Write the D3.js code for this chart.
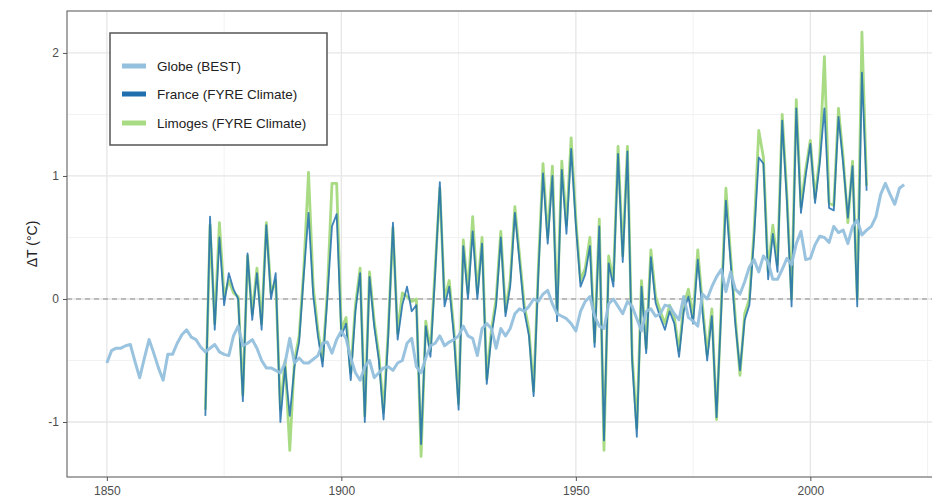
<!DOCTYPE html>
<html>
<head>
<meta charset="utf-8">
<script src="https://cdn.jsdelivr.net/npm/d3@7"></script>
<style>
  body { margin: 0; background: #fff; }
  text { font-family: "Liberation Sans", Arial, sans-serif; }
</style>
</head>
<body>
<script>
// global mean (BEST), 1850-2020
const globeStart = 1850;
const globeValues = [
  -0.52, -0.42, -0.40, -0.40, -0.38, -0.37, -0.51, -0.64, -0.48, -0.33,
  -0.44, -0.56, -0.66, -0.45, -0.45, -0.36, -0.29, -0.25, -0.31, -0.33,
  -0.39, -0.43, -0.40, -0.37, -0.43, -0.45, -0.46, -0.30, -0.22, -0.38,
  -0.36, -0.33, -0.40, -0.50, -0.56, -0.56, -0.58, -0.60, -0.52, -0.32,
  -0.52, -0.48, -0.52, -0.52, -0.49, -0.46, -0.36, -0.35, -0.44, -0.33,
  -0.26, -0.32, -0.48, -0.60, -0.66, -0.55, -0.50, -0.64, -0.60, -0.56,
  -0.55, -0.58, -0.52, -0.50, -0.36, -0.32, -0.55, -0.60, -0.48, -0.38,
  -0.36, -0.30, -0.38, -0.35, -0.33, -0.30, -0.22, -0.30, -0.32, -0.46,
  -0.24, -0.20, -0.24, -0.40, -0.24, -0.30, -0.24, -0.12, -0.08, -0.10,
  -0.06, 0.00, -0.02, 0.04, 0.07, -0.04, -0.12, -0.14, -0.16, -0.20,
  -0.26, -0.10, -0.02, 0.02, -0.14, -0.22, -0.24, -0.04, 0.00, -0.06,
  -0.12, -0.02, -0.06, -0.16, -0.26, -0.10, -0.08, -0.14, -0.12, -0.05,
  -0.06, -0.12, -0.17, 0.02, -0.15, -0.18, -0.22, 0.04, 0.00, 0.10,
  0.18, 0.24, 0.06, 0.22, 0.08, 0.04, 0.14, 0.26, 0.32, 0.22,
  0.35, 0.30, 0.16, 0.16, 0.24, 0.33, 0.28, 0.45, 0.55, 0.32,
  0.33, 0.44, 0.51, 0.50, 0.46, 0.59, 0.54, 0.56, 0.45, 0.59,
  0.64, 0.52, 0.56, 0.59, 0.67, 0.85, 0.94, 0.85, 0.77, 0.90,
  0.93
];
// France and Limoges (FYRE Climate), 1871-2012
const fyreStart = 1871;
const franceValues = [
  -0.95, 0.67, -0.25, 0.50, -0.05, 0.21, 0.08, 0.00, -0.83, 0.37,
  -0.17, 0.21, -0.25, 0.60, 0.00, 0.21, -1.00, -0.55, -0.95, -0.55,
  -0.35, 0.20, 0.70, 0.03, -0.30, -0.55, 0.00, 0.59, 0.69, -0.30,
  -0.20, -0.66, -0.10, 0.21, -1.00, 0.18, -0.22, -0.50, -0.98, -0.30,
  0.62, -0.33, -0.05, 0.10, -0.10, -0.05, -1.18, -0.22, -0.47, 0.20,
  0.95, -0.06, 0.10, -0.30, -0.90, 0.43, 0.00, 0.55, 0.00, 0.45,
  -0.69, -0.30, -0.05, 0.50, -0.14, 0.10, 0.70, 0.30, -0.10, -0.30,
  -0.79, 0.20, 1.02, 0.45, 1.00, -0.18, 1.05, 0.53, 1.22, 0.60,
  0.10, 0.20, 0.43, -0.39, 0.59, -1.15, 0.29, 0.10, 1.18, 0.30,
  1.20, -0.50, -1.12, 0.10, -0.44, 0.34, -0.03, -0.15, -0.25, -0.10,
  -0.20, -0.47, -0.10, 0.02, -0.20, 0.32, -0.10, -0.50, -0.14, -0.96,
  -0.10, 0.80, 0.30, -0.20, -0.58, -0.17, -0.05, 0.50, 1.15, 1.10,
  0.16, 0.53, 0.22, 1.45, 0.80, -0.06, 1.55, 0.70, 1.00, 1.26,
  0.78, 1.10, 1.55, 0.74, 0.72, 1.48, 1.10, 0.66, 1.08, -0.06,
  1.84, 0.88
];
const limogesValues = [
  -0.90, 0.60, -0.20, 0.62, 0.02, 0.15, 0.05, 0.02, -0.78, 0.35,
  -0.12, 0.25, -0.20, 0.62, 0.05, 0.15, -0.90, -0.50, -1.23, -0.50,
  -0.30, 0.25, 1.03, 0.10, -0.25, -0.50, 0.05, 0.94, 0.94, -0.25,
  -0.15, -0.60, -0.05, 0.25, -0.95, 0.22, -0.18, -0.45, -0.92, -0.25,
  0.58, -0.28, 0.05, 0.02, -0.02, 0.00, -1.28, -0.18, -0.42, 0.25,
  0.90, 0.00, 0.15, -0.25, -0.85, 0.48, 0.05, 0.67, 0.05, 0.50,
  -0.65, -0.25, 0.00, 0.55, -0.10, 0.15, 0.75, 0.35, -0.05, -0.25,
  -0.75, 0.25, 1.10, 0.50, 1.08, -0.12, 1.12, 0.60, 1.31, 0.65,
  0.15, 0.25, 0.50, -0.35, 0.65, -1.23, 0.35, 0.15, 1.24, 0.35,
  1.24, -0.45, -1.05, 0.15, -0.40, 0.40, 0.02, -0.10, -0.20, -0.05,
  -0.15, -0.42, -0.05, 0.08, -0.15, 0.40, -0.05, -0.45, -0.08, -0.98,
  -0.05, 0.90, 0.35, -0.15, -0.62, -0.12, 0.00, 0.55, 1.37, 1.15,
  0.22, 0.60, 0.28, 1.50, 0.85, 0.00, 1.62, 0.75, 1.05, 1.29,
  0.82, 1.15, 1.97, 0.78, 0.76, 1.55, 1.15, 0.62, 1.12, 0.00,
  2.17, 0.92
];
const seriesNames = ["Globe (BEST)", "France (FYRE Climate)", "Limoges (FYRE Climate)"];
const seriesColors = ["#93c0dc", "#1f6fae", "#a9db84"];
const xTicks = [1850, 1900, 1950, 2000];
const xMinor = [1875, 1925, 1975, 2025];
const yTicks = [-1, 0, 1, 2];
const yMinor = [-0.5, 0.5, 1.5];

const svgWidth = 932;
const svgHeight = 503;
const panelLeft = 67;
const panelTop = 11;
const panelBottom = 477;
const panelRight = 944; // ggplot panel runs a little past the image edge

const svg = d3.select("body").append("svg")
            .attr("width", svgWidth)
            .attr("height", svgHeight);

var xScale = d3.scaleLinear().domain([1841.5, 2028.5]).range([panelLeft, panelRight]);
var yScale = d3.scaleLinear().domain([-1.447, 2.341]).range([panelBottom, panelTop]);

function toPoints(start, values) {
  return values.map(function(v, i) { return [start + i, v]; });
}
const line = d3.line()
             .curve(d3.curveLinear)
             .x(function(d) { return xScale(d[0]); })
             .y(function(d) { return yScale(d[1]); });

createGrid();
drawLines();
createAxes();
createLegend();

function createGrid() {
  //minor grid first, major over it
  xMinor.forEach(function(t) {
    svg.append("line")
       .attr("x1", xScale(t)).attr("x2", xScale(t))
       .attr("y1", panelTop).attr("y2", panelBottom)
       .style("stroke", "#f2f2f2").style("stroke-width", 1);
  });
  yMinor.forEach(function(t) {
    svg.append("line")
       .attr("x1", panelLeft).attr("x2", panelRight)
       .attr("y1", yScale(t)).attr("y2", yScale(t))
       .style("stroke", "#f2f2f2").style("stroke-width", 1);
  });
  xTicks.forEach(function(t) {
    svg.append("line")
       .attr("x1", xScale(t)).attr("x2", xScale(t))
       .attr("y1", panelTop).attr("y2", panelBottom)
       .style("stroke", "#e6e6e6").style("stroke-width", 1.3);
  });
  yTicks.forEach(function(t) {
    svg.append("line")
       .attr("x1", panelLeft).attr("x2", panelRight)
       .attr("y1", yScale(t)).attr("y2", yScale(t))
       .style("stroke", "#e6e6e6").style("stroke-width", 1.3);
  });
  //dashed zero line
  svg.append("line")
     .attr("x1", panelLeft).attr("x2", panelRight)
     .attr("y1", yScale(0)).attr("y2", yScale(0))
     .style("stroke", "#8a8a8a")
     .style("stroke-width", 1)
     .style("stroke-dasharray", "5,4");
}

function drawLines() {
  svg.append("path")
     .attr("d", line(toPoints(fyreStart, limogesValues)))
     .attr("fill", "none")
     .attr("stroke", seriesColors[2])
     .attr("stroke-width", 2.8)
     .attr("stroke-linejoin", "round");
  svg.append("path")
     .attr("d", line(toPoints(fyreStart, franceValues)))
     .attr("fill", "none")
     .attr("stroke", seriesColors[1])
     .attr("stroke-width", 1.8)
     .attr("stroke-opacity", 0.85)
     .attr("stroke-linejoin", "round");
  svg.append("path")
     .attr("d", line(toPoints(globeStart, globeValues)))
     .attr("fill", "none")
     .attr("stroke", seriesColors[0])
     .attr("stroke-width", 3)
     .attr("stroke-opacity", 0.95)
     .attr("stroke-linejoin", "round");
}

function createAxes() {
  //panel border
  svg.append("rect")
     .attr("x", panelLeft)
     .attr("y", panelTop)
     .attr("width", panelRight - panelLeft)
     .attr("height", panelBottom - panelTop)
     .attr("fill", "none")
     .attr("stroke", "#6e6e6e")
     .attr("stroke-width", 1.2);

  var x_axis = d3.axisBottom(xScale).tickValues(xTicks).tickFormat(function(d) { return String(d); }).tickSize(4).tickPadding(5);
  var y_axis = d3.axisLeft(yScale).tickValues(yTicks).tickFormat(function(d) { return String(d); }).tickSize(4).tickPadding(4);
  var gx = svg.append("g")
     .attr("transform", "translate(0," + panelBottom + ")")
     .call(x_axis);
  var gy = svg.append("g")
     .attr("transform", "translate(" + panelLeft + ",0)")
     .call(y_axis);
  [gx, gy].forEach(function(g) {
    g.select(".domain").remove();
    g.selectAll(".tick line").attr("stroke", "#555");
    g.selectAll(".tick text")
     .attr("fill", "#4d4d4d")
     .style("font-size", "12px")
     .style("font-family", "'Liberation Sans', Arial, sans-serif");
  });

  svg.append("text")
     .attr("transform", "translate(37," + ((panelTop + panelBottom) / 2) + ") rotate(-90)")
     .attr("text-anchor", "middle")
     .attr("fill", "#222")
     .style("font-size", "14px")
     .text("ΔT (°C)");
}

function createLegend() {
  let legend = svg.append("g").attr("transform", "translate(110,33)");
  legend.append("rect")
        .attr("width", 217)
        .attr("height", 112)
        .attr("fill", "#fff")
        .attr("stroke", "#555")
        .attr("stroke-width", 1.5);
  const rowY = [33, 61, 90];
  seriesNames.forEach(function(name, i) {
    legend.append("rect")
          .attr("x", 12)
          .attr("y", rowY[i] - 2.5)
          .attr("width", 24)
          .attr("height", 5)
          .attr("fill", seriesColors[i]);
    legend.append("text")
          .attr("x", 47)
          .attr("y", rowY[i])
          .attr("dy", "0.36em")
          .attr("fill", "#222")
          .style("font-size", "13.5px")
          .text(name);
  });
}
</script>
</body>
</html>
